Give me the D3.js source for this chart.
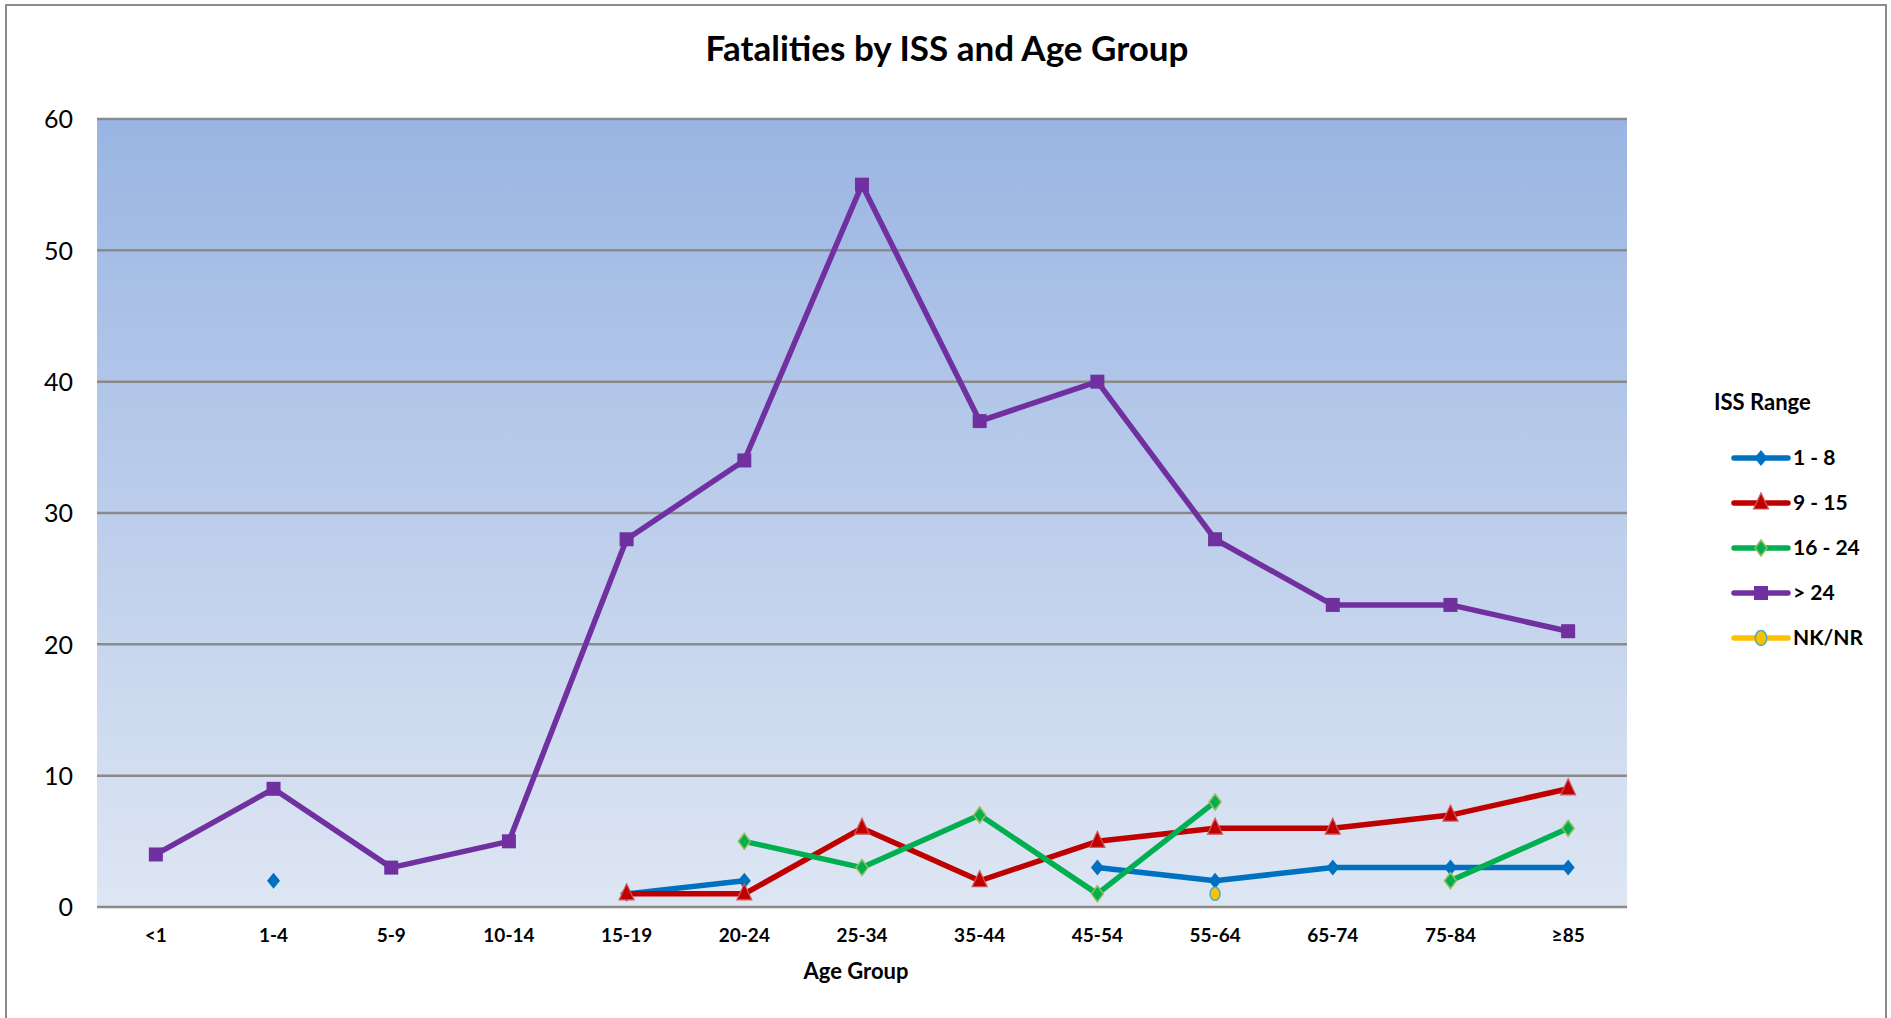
<!DOCTYPE html>
<html lang="en">
<head>
<meta charset="utf-8">
<title>Fatalities by ISS and Age Group</title>
<script src="https://d3js.org/d3.v7.min.js"></script>
<style>
  body { margin: 0; background: #fff; }
  svg text { font-family: Lato, "Open Sans", sans-serif; fill: #000; }
</style>
</head>
<body>
<div id="chart"></div>
<script>
// age groups (x axis)
var ageGroups = ["<1", "1-4", "5-9", "10-14", "15-19", "20-24", "25-34", "35-44", "45-54", "55-64", "65-74", "75-84", "\u226585"];
var yTicks = [0, 10, 20, 30, 40, 50, 60];

// fatalities per ISS range, null = no value
var iss1to8   = [null, 2, null, null, 1, 2, null, null, 3, 2, 3, 3, 3];
var iss9to15  = [null, null, null, null, 1, 1, 6, 2, 5, 6, 6, 7, 9];
var iss16to24 = [null, null, null, null, null, 5, 3, 7, 1, 8, null, 2, 6];
var issOver24 = [4, 9, 3, 5, 28, 34, 55, 37, 40, 28, 23, 23, 21];
var issNKNR   = [null, null, null, null, null, null, null, null, null, 1, null, null, null];

var seriesNames = ["1 - 8", "9 - 15", "16 - 24", "> 24", "NK/NR"];

var series = [
  {name: seriesNames[0], values: iss1to8,   color: "#0070C0", marker: "diamond"},
  {name: seriesNames[1], values: iss9to15,  color: "#C00000", marker: "triangle"},
  {name: seriesNames[2], values: iss16to24, color: "#00B050", marker: "diamondG"},
  {name: seriesNames[3], values: issOver24, color: "#7030A0", marker: "square"},
  {name: seriesNames[4], values: issNKNR,   color: "#FFC000", marker: "circle"}
];

var W = 1891, H = 1018,
    plot = {left: 97, top: 119, right: 1627, bottom: 907};

var svg = d3.select("#chart").append("svg")
    .attr("width", W)
    .attr("height", H);

// outer frame
svg.append("rect")
    .attr("x", 6).attr("y", 5)
    .attr("width", 1880).attr("height", H + 10)
    .attr("fill", "#fff")
    .attr("stroke", "#8c8c8c")
    .attr("stroke-width", 2);

var defs = svg.append("defs");
var grad = defs.append("linearGradient")
    .attr("id", "bg").attr("x1", 0).attr("y1", 0).attr("x2", 0).attr("y2", 1);
grad.append("stop").attr("offset", "0%").attr("stop-color", "#9AB5E3");
grad.append("stop").attr("offset", "100%").attr("stop-color", "#DEE6F3");

var x = d3.scaleBand()
    .domain(ageGroups)
    .range([plot.left, plot.right]);

var y = d3.scaleLinear()
    .domain([0, 60])
    .range([plot.bottom, plot.top]);

svg.append("rect")
    .attr("x", plot.left).attr("y", plot.top)
    .attr("width", plot.right - plot.left)
    .attr("height", plot.bottom - plot.top)
    .attr("fill", "url(#bg)");

// gridlines
svg.append("g")
  .selectAll("line")
  .data(yTicks)
  .enter().append("line")
    .attr("x1", plot.left).attr("x2", plot.right)
    .attr("y1", function(d) { return y(d); })
    .attr("y2", function(d) { return y(d); })
    .attr("stroke", "#8a8a8a")
    .attr("stroke-width", 2.5);

// y axis labels
var yAxis = svg.append("g")
    .attr("transform", "translate(" + (plot.left - 24) + ",0)")
    .call(d3.axisLeft(y).tickValues(yTicks).tickSize(0).tickPadding(0));
yAxis.select(".domain").remove();
yAxis.selectAll("text")
    .style("font-size", "25px")
    .attr("dy", "0.35em");

// x axis labels
var xAxis = svg.append("g")
    .attr("transform", "translate(0," + (plot.bottom + 21) + ")")
    .call(d3.axisBottom(x).tickSize(0).tickPadding(0));
xAxis.select(".domain").remove();
xAxis.selectAll("text")
    .style("font-size", "19px")
    .style("font-weight", "bold")
    .attr("dy", "0.71em");

// title + axis title
svg.append("text")
    .attr("x", 947).attr("y", 61)
    .attr("text-anchor", "middle")
    .style("font-size", "35px")
    .style("font-weight", "bold")
    .text("Fatalities by ISS and Age Group");

svg.append("text")
    .attr("x", 856).attr("y", 979)
    .attr("text-anchor", "middle")
    .style("font-size", "22px")
    .style("font-weight", "bold")
    .text("Age Group");

function drawMarker(g, type, color, cx, cy, s) {
  s = s || 1;
  if (type === "diamond") {
    g.append("path")
      .attr("d", "M" + cx + "," + (cy - 8 * s) + "L" + (cx + 6.5 * s) + "," + cy + "L" + cx + "," + (cy + 8 * s) + "L" + (cx - 6.5 * s) + "," + cy + "Z")
      .attr("fill", color);
  } else if (type === "diamondG") {
    g.append("path")
      .attr("d", "M" + cx + "," + (cy - 8 * s) + "L" + (cx + 6 * s) + "," + cy + "L" + cx + "," + (cy + 8 * s) + "L" + (cx - 6 * s) + "," + cy + "Z")
      .attr("fill", color)
      .attr("stroke", "#9BBB59")
      .attr("stroke-width", 1.5);
  } else if (type === "triangle") {
    g.append("path")
      .attr("d", "M" + cx + "," + (cy - 10 * s) + "L" + (cx + 7.5 * s) + "," + (cy + 6 * s) + "L" + (cx - 7.5 * s) + "," + (cy + 6 * s) + "Z")
      .attr("fill", color)
      .attr("stroke", "#D05A5A")
      .attr("stroke-width", 1.2);
  } else if (type === "square") {
    g.append("rect")
      .attr("x", cx - 7 * s).attr("y", cy - 7 * s)
      .attr("width", 14 * s).attr("height", 14 * s)
      .attr("fill", color);
  } else if (type === "circle") {
    g.append("ellipse")
      .attr("cx", cx).attr("cy", cy)
      .attr("rx", 5 * s).attr("ry", 6.5 * s)
      .attr("fill", color)
      .attr("stroke", "#4BACC6")
      .attr("stroke-width", 1.5);
  }
}

var line = d3.line()
    .defined(function(d) { return d.v !== null; })
    .x(function(d) { return x(d.k) + x.bandwidth() / 2; })
    .y(function(d) { return y(d.v); });

// draw order: > 24 first, then the low series on top
var order = [3, 0, 1, 2, 4];
order.forEach(function(i) {
  var s = series[i];
  var pts = ageGroups.map(function(k, j) { return {k: k, v: s.values[j]}; });
  var g = svg.append("g");
  g.append("path")
    .datum(pts)
    .attr("d", line)
    .attr("fill", "none")
    .attr("stroke", s.color)
    .attr("stroke-width", 5.5)
    .attr("stroke-linejoin", "round");
  pts.filter(function(d) { return d.v !== null; }).forEach(function(d) {
    drawMarker(g, s.marker, s.color, x(d.k) + x.bandwidth() / 2, y(d.v));
  });
});

// legend
var legend = svg.append("g");
legend.append("text")
    .attr("x", 1714).attr("y", 410)
    .style("font-size", "22px")
    .style("font-weight", "bold")
    .text("ISS Range");

series.forEach(function(s, i) {
  var ly = 458 + i * 45;
  legend.append("line")
    .attr("x1", 1734).attr("x2", 1788)
    .attr("y1", ly).attr("y2", ly)
    .attr("stroke", s.color)
    .attr("stroke-width", 5.5)
    .attr("stroke-linecap", "round");
  drawMarker(legend, s.marker, s.color, 1761, ly, s.marker === "circle" ? 1.15 : 1);
  legend.append("text")
    .attr("x", 1793).attr("y", ly)
    .attr("dy", "0.35em")
    .style("font-size", "21px")
    .style("font-weight", "bold")
    .text(s.name);
});
</script>
</body>
</html>
